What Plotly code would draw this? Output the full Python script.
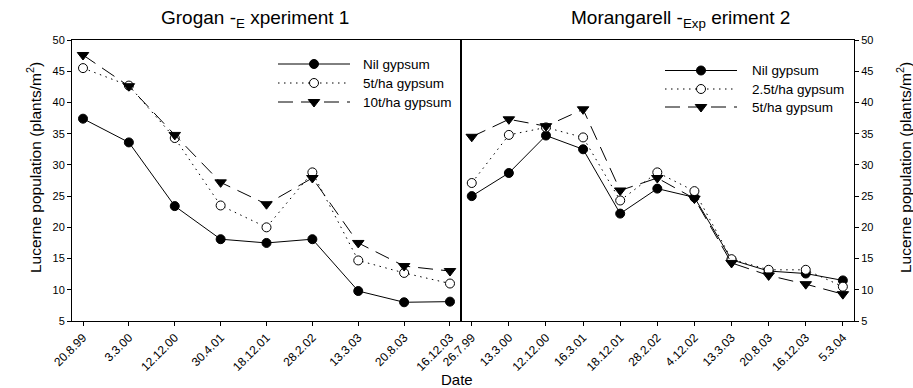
import plotly.graph_objects as go

# ---------------- data ----------------
dates_grogan = ["20.8.99", "3.3.00", "12.12.00", "30.4.01", "18.12.01",
                "28.2.02", "13.3.03", "20.8.03", "16.12.03"]
grogan_nil = [37.4, 33.6, 23.4, 18.1, 17.5, 18.1, 9.8, 8.0, 8.1]
grogan_5t = [45.5, 42.7, 34.3, 23.5, 20.0, 28.8, 14.7, 12.7, 11.0]
grogan_10t = [47.6, 42.6, 34.8, 27.2, 23.7, 27.9, 17.5, 13.8, 13.0]

dates_moran = ["26.7.99", "13.3.00", "12.12.00", "16.3.01", "18.12.01",
               "28.2.02", "4.12.02", "13.3.03", "20.8.03", "16.12.03", "5.3.04"]
moran_nil = [25.0, 28.7, 34.7, 32.5, 22.2, 26.2, 24.8, 14.8, 13.0, 12.6, 11.5]
moran_25t = [27.1, 34.8, 36.0, 34.4, 24.3, 28.8, 25.8, 14.9, 13.2, 13.2, 10.5]
moran_5t = [34.5, 37.3, 36.2, 38.9, 25.9, 27.9, 24.6, 14.3, 12.3, 10.9, 9.3]

yticks = [5, 10, 15, 20, 25, 30, 35, 40, 45, 50]

legend_grogan = ["Nil gypsum", "5t/ha gypsum", "10t/ha gypsum"]
legend_moran = ["Nil gypsum", "2.5t/ha gypsum", "5t/ha gypsum"]

# ---------------- styles ----------------
FONT = "Liberation Sans, Arial, sans-serif"
DOT = "1.5px,4.5px"
LDASH = "15px,8px"
STYLES = [("solid", "circle", True), (DOT, "circle", False), (LDASH, "triangle-down", True)]

W, H = 913, 388
L, R, T, B = 72, 59, 40, 67
pw = W - L - R
ph = H - T - B
split = (461 - L) / pw

fig = go.Figure()


def marker(symbol, fill):
    return dict(symbol=symbol, size=10 if symbol == "triangle-down" else 9,
                color="black" if fill else "white",
                line=dict(color="black", width=1))


def add(x, y, style, xa, ya):
    dash, symbol, fill = style
    fig.add_trace(go.Scatter(
        x=x, y=y, mode="lines+markers", xaxis=xa, yaxis=ya, showlegend=False,
        line=dict(color="black", width=1, dash=dash), marker=marker(symbol, fill),
    ))


for ys, st in zip([grogan_nil, grogan_5t, grogan_10t], STYLES):
    add(dates_grogan, ys, st, "x", "y")
for ys, st in zip([moran_nil, moran_25t, moran_5t], STYLES):
    add(dates_moran, ys, st, "x2", "y2")


# ---- custom legends (pixel coordinate overlay axes) ----
def legend_block(names, x0, x1, rows, tx):
    for name, st, ry in zip(names, STYLES, rows):
        dash, symbol, fill = st
        xm = (x0 + x1) / 2
        fig.add_trace(go.Scatter(
            x=[x0, x1], y=[ry, ry], mode="lines",
            xaxis="x3", yaxis="y3", showlegend=False, hoverinfo="skip",
            line=dict(color="black", width=1, dash=dash),
        ))
        fig.add_trace(go.Scatter(
            x=[xm], y=[ry], mode="markers",
            xaxis="x3", yaxis="y3", showlegend=False, hoverinfo="skip",
            marker=marker(symbol, fill),
        ))
        fig.add_annotation(text=name, x=tx, y=ry, xref="x3", yref="y3",
                           xanchor="left", yanchor="middle", showarrow=False,
                           font=dict(family=FONT, size=13.5, color="black"))


legend_block(legend_grogan, 278, 350, [64, 83, 102], 361)
legend_block(legend_moran, 665, 737, [70.5, 89, 107], 750)

axis_common = dict(showline=True, linecolor="black", linewidth=1, mirror=True,
                   ticks="outside", ticklen=4, tickcolor="black", tickwidth=1,
                   showgrid=False, zeroline=False)
xtickfont = dict(family=FONT, size=12, color="black")
ytickfont = dict(family=FONT, size=11, color="black")

ytitle = "Lucerne population (plants/m<sup>2</sup>)"

fig.update_layout(
    width=W, height=H,
    margin=dict(l=L, r=R, t=T, b=B),
    paper_bgcolor="white", plot_bgcolor="rgba(0,0,0,0)",
    font=dict(family=FONT, color="black"),
    showlegend=False,
    xaxis=dict(domain=[0, split], type="category", range=[-0.24, 8.24],
               tickangle=-45, anchor="y", tickfont=xtickfont, **axis_common),
    yaxis=dict(domain=[0, 1], range=[5, 50], tickvals=yticks, anchor="x",
               tickfont=ytickfont, **axis_common),
    xaxis2=dict(domain=[split, 1], type="category", range=[-0.29, 10.3],
                tickangle=-45, anchor="y2", tickfont=xtickfont, **axis_common),
    yaxis2=dict(domain=[0, 1], range=[5, 50], tickvals=yticks, anchor="x2",
                side="right", tickfont=ytickfont, **axis_common),
    xaxis3=dict(domain=[0, 1], range=[L, W - R], visible=False, anchor="y3",
                fixedrange=True),
    yaxis3=dict(domain=[0, 1], range=[T + ph, T], visible=False, anchor="x3",
                fixedrange=True),
)


def px_x(p):
    return (p - L) / pw


def px_y(p):
    return (T + ph - p) / ph


for tx, ty, txt, fs, ang in [
    (255, 19, "Grogan -<sub>E</sub> xperiment 1", 19, 0),
    (680, 19, "Morangarell -<sub>Exp</sub> eriment 2", 19, 0),
    (457, 379, "Date", 15, 0),
    (34, 168, ytitle, 15.5, -90),
    (904, 168, ytitle, 15.5, -90),
]:
    fig.add_annotation(text=txt, x=px_x(tx), y=px_y(ty), xref="paper", yref="paper",
                       showarrow=False, textangle=ang,
                       font=dict(family=FONT, size=fs, color="black"),
                       xanchor="center", yanchor="middle")

fig.write_html("out.html")
